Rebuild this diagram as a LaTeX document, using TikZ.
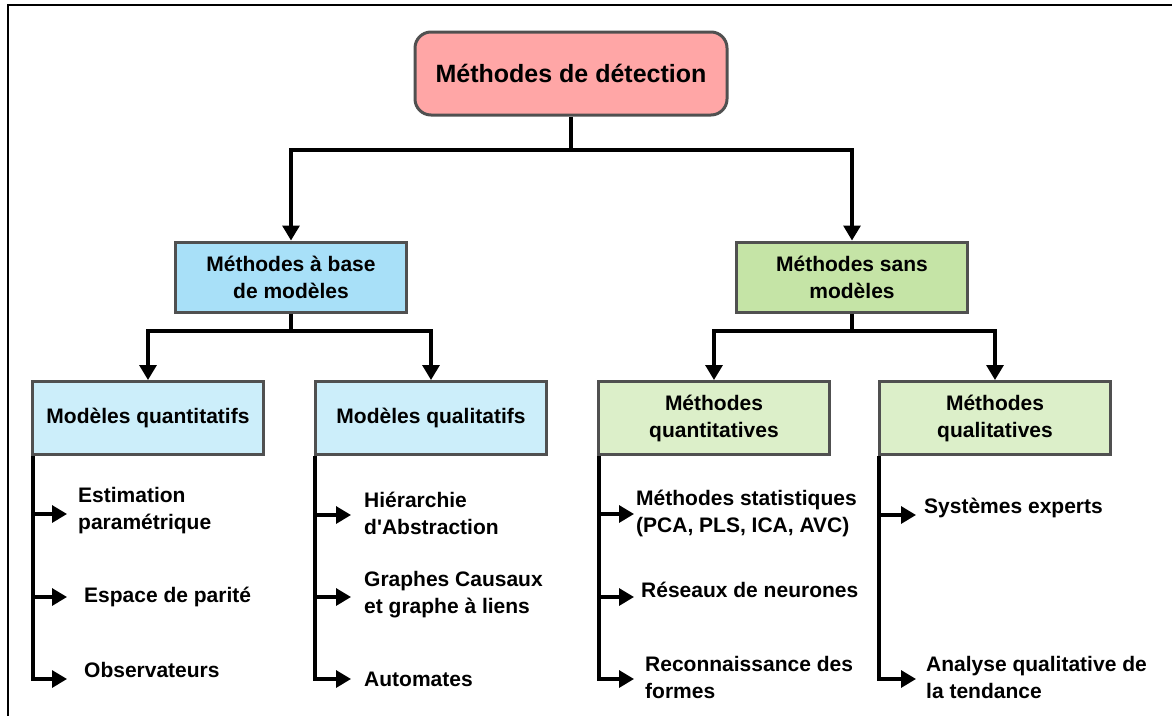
\documentclass[tikz,border=0pt]{standalone}
\usepackage{fontspec}
\setmainfont{Liberation Sans}
\usetikzlibrary{arrows.meta}
\definecolor{rootfill}{HTML}{FFA6A6}
\definecolor{bluetwo}{HTML}{A8E0F8}
\definecolor{greentwo}{HTML}{C5E4A6}
\definecolor{bluethree}{HTML}{CCEEFA}
\definecolor{greenthree}{HTML}{DCEFC9}
\definecolor{boxline}{HTML}{505050}
\tikzset{
  box/.style={draw=boxline, line width=3pt, align=center, inner sep=0pt,
    font=\bfseries\fontsize{21}{27}\selectfont},
  rootbox/.style={box, rounded corners=16pt, fill=rootfill, minimum width=312pt, minimum height=83pt,
    font=\bfseries\fontsize{25}{30}\selectfont},
  lvtwo/.style={box, minimum width=231pt, minimum height=70pt},
  lvthree/.style={box, minimum width=231pt, minimum height=73pt},
  leaf/.style={anchor=west, align=left, inner sep=0pt, font=\bfseries\fontsize{21}{27}\selectfont},
  conn/.style={line width=3.2pt, black},
  arr/.style={conn, -{Triangle[length=15pt,width=17pt]}},
}
\begin{document}
\begin{tikzpicture}[x=1pt,y=-1pt]
\useasboundingbox (0,0) rectangle (1172,715);
% frame
\draw[line width=2pt] (8,716) -- (8,5) -- (1173,5);

% boxes
\node[rootbox] (root) at (571,73.5) {Méthodes de détection};
\node[lvtwo, fill=bluetwo] (mb) at (291,277) {Méthodes à base\\de modèles};
\node[lvtwo, fill=greentwo] (sm) at (852,277) {Méthodes sans\\modèles};
\node[lvthree, fill=bluethree] (mq) at (148,418) {Modèles quantitatifs};
\node[lvthree, fill=bluethree] (ml) at (431,418) {Modèles qualitatifs};
\node[lvthree, fill=greenthree] (sq) at (714,418) {Méthodes\\quantitatives};
\node[lvthree, fill=greenthree] (sl) at (995,418) {Méthodes\\qualitatives};

% top connectors
\coordinate (j0) at (571,150);
\draw[conn] (root.south) -- (j0);
\draw[arr] (j0) -| (mb.north);
\draw[arr] (j0) -| (sm.north);
\coordinate (j1) at (291,331);
\coordinate (j2) at (852,331);
\draw[conn] (mb.south) -- (j1);
\draw[arr] (j1) -| (mq.north);
\draw[arr] (j1) -| (ml.north);
\draw[conn] (sm.south) -- (j2);
\draw[arr] (j2) -| (sq.north);
\draw[arr] (j2) -| (sl.north);

% leaves: Modeles quantitatifs
\node[leaf] (a1) at (78,511) {Estimation\\paramétrique};
\node[leaf] (a2) at (84,597) {Espace de parité};
\node[leaf] (a3) at (84,670) {Observateurs};
\coordinate (av) at ([xshift=2pt]mq.south west);
\draw[conn] (av) -- (av |- 0,679);
\draw[arr] (av |- 0,514) -- (67,514);
\draw[arr] (av |- 0,597) -- (67,597);
\draw[arr] ([xshift=-1.6pt]av |- 0,679) -- (67,679);

% leaves: Modeles qualitatifs
\node[leaf] (b1) at (364,513) {Hiérarchie\\d\textquotesingle Abstraction};
\node[leaf] (b2) at (364,595) {Graphes Causaux\\et graphe à liens};
\node[leaf] (b3) at (364,679) {Automates};
\coordinate (bv) at ([xshift=1pt]ml.south west);
\draw[conn] (bv) -- (bv |- 0,679);
\draw[arr] (bv |- 0,515) -- (351,515);
\draw[arr] (bv |- 0,597) -- (351,597);
\draw[arr] ([xshift=-1.6pt]bv |- 0,679) -- (351,679);

% leaves: Methodes quantitatives
\node[leaf] (c1) at (636,513) {Méthodes statistiques\\(PCA, PLS, ICA, AVC)};
\node[leaf] (c2) at (641,590) {Réseaux de neurones};
\node[leaf] (c3) at (645,677) {Reconnaissance des\\formes};
\coordinate (cv) at ([xshift=2pt]sq.south west);
\draw[conn] (cv) -- (cv |- 0,679);
\draw[arr] (cv |- 0,514) -- (634,514);
\draw[arr] (cv |- 0,597) -- (634,597);
\draw[arr] ([xshift=-1.6pt]cv |- 0,679) -- (634,679);

% leaves: Methodes qualitatives
\node[leaf] (d1) at (924,508) {Systèmes experts};
\node[leaf] (d2) at (926,677) {Analyse qualitative de\\la tendance};
\coordinate (dv) at ([xshift=1pt]sl.south west);
\draw[conn] (dv) -- (dv |- 0,679);
\draw[arr] (dv |- 0,515) -- (916,515);
\draw[arr] ([xshift=-1.6pt]dv |- 0,679) -- (916,679);
\end{tikzpicture}
\end{document}
